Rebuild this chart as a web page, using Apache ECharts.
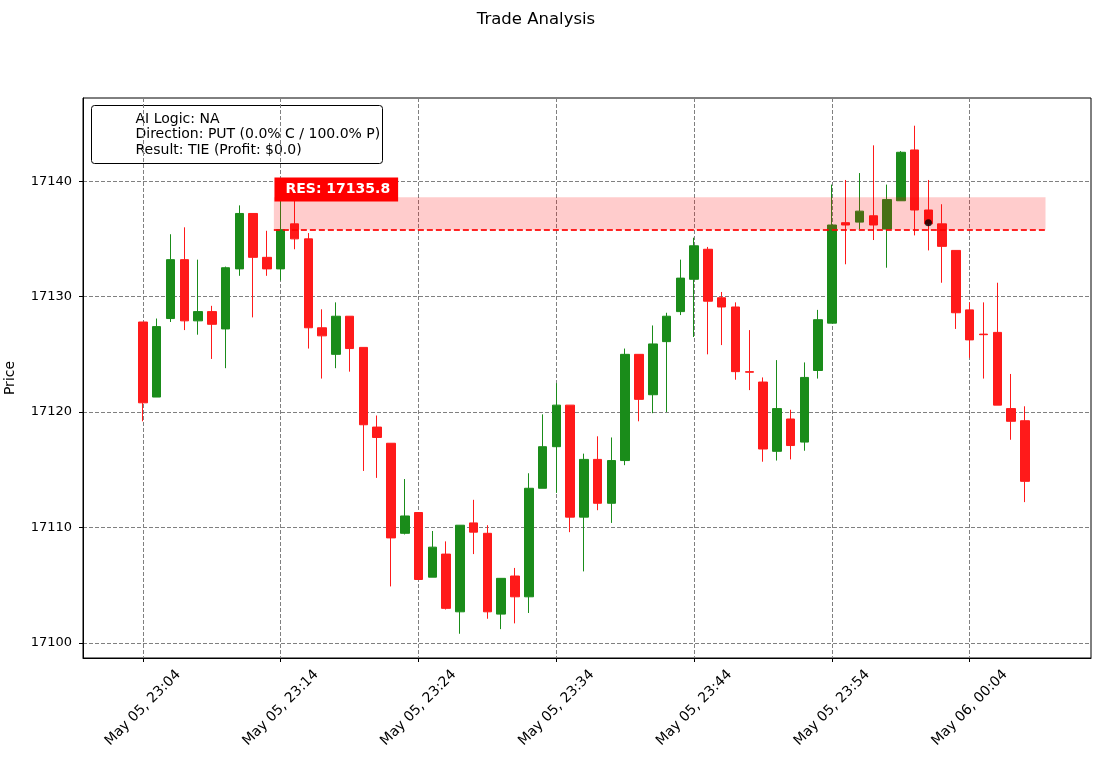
<!DOCTYPE html>
<html>
<head>
<meta charset="utf-8">
<title>Trade Analysis</title>
<script src="https://cdn.jsdelivr.net/npm/echarts@6.0.0/dist/echarts.min.js"></script>
<style>
  html, body { margin: 0; padding: 0; background: #fff; }
  #chart { width: 1101px; height: 758px; }
</style>
</head>
<body>
<div id="chart"></div>
<script>
// one candle per minute, 23:04 -> 00:08
const times = [
  "23:04","23:05","23:06","23:07","23:08","23:09","23:10","23:11","23:12","23:13",
  "23:14","23:15","23:16","23:17","23:18","23:19","23:20","23:21","23:22","23:23",
  "23:24","23:25","23:26","23:27","23:28","23:29","23:30","23:31","23:32","23:33",
  "23:34","23:35","23:36","23:37","23:38","23:39","23:40","23:41","23:42","23:43",
  "23:44","23:45","23:46","23:47","23:48","23:49","23:50","23:51","23:52","23:53",
  "23:54","23:55","23:56","23:57","23:58","23:59","00:00","00:01","00:02","00:03",
  "00:04","00:05","00:06","00:07","00:08"
];
const opens = [
  17127.8, 17121.3, 17128.1, 17133.2, 17127.9, 17128.7, 17127.2, 17132.4, 17137.2, 17133.4,
  17132.4, 17136.3, 17135.0, 17127.3, 17125.0, 17128.3, 17125.6, 17118.7, 17117.3, 17109.5,
  17111.3, 17105.7, 17107.7, 17102.7, 17110.4, 17109.5, 17102.5, 17105.8, 17104.0, 17113.4,
  17117.0, 17120.6, 17110.9, 17115.9, 17112.1, 17115.8, 17125.0, 17121.5, 17126.1, 17128.7,
  17131.5, 17134.1, 17129.9, 17129.1, 17123.5, 17122.6, 17116.6, 17119.4, 17117.4, 17123.6,
  17127.7, 17136.4, 17136.45, 17137.0, 17135.85, 17138.3, 17142.7, 17137.5, 17136.3, 17134.0,
  17128.85, 17126.75, 17126.9, 17120.3, 17119.25
];
const highs = [
  17127.8, 17128.1, 17135.4, 17136.0, 17133.2, 17129.2, 17132.6, 17137.9, 17137.2, 17135.7,
  17139.5, 17138.5, 17135.5, 17128.9, 17129.5, 17128.3, 17125.6, 17119.7, 17117.3, 17114.2,
  17111.3, 17109.7, 17108.8, 17110.2, 17112.4, 17110.2, 17105.6, 17106.5, 17114.7, 17119.8,
  17122.5, 17120.6, 17116.4, 17117.9, 17117.8, 17125.5, 17125.0, 17127.5, 17128.6, 17133.2,
  17135.1, 17134.3, 17130.4, 17129.5, 17127.1, 17123.0, 17124.5, 17120.2, 17124.3, 17128.85,
  17139.7, 17140.1, 17140.7, 17143.1, 17139.7, 17142.6, 17144.8, 17140.1, 17138.0, 17134.0,
  17129.5, 17129.5, 17131.2, 17123.3, 17120.5
];
const lows = [
  17119.2, 17121.3, 17127.8, 17127.1, 17126.7, 17124.6, 17123.8, 17131.8, 17128.2, 17131.8,
  17131.4, 17134.1, 17125.5, 17122.9, 17123.8, 17123.5, 17114.9, 17114.3, 17104.9, 17109.4,
  17105.5, 17105.7, 17102.9, 17100.8, 17107.7, 17102.1, 17101.2, 17101.7, 17102.6, 17113.4,
  17113.0, 17109.6, 17106.2, 17111.5, 17110.4, 17115.4, 17119.2, 17119.9, 17120.0, 17128.4,
  17126.5, 17125.0, 17125.8, 17122.8, 17121.9, 17115.7, 17115.8, 17115.9, 17116.65, 17122.9,
  17127.7, 17132.8, 17135.85, 17134.9, 17132.5, 17138.3, 17135.3, 17134.0, 17131.2, 17127.2,
  17124.7, 17122.9, 17120.6, 17117.6, 17112.2
];
const closes = [
  17120.8, 17127.4, 17133.2, 17127.9, 17128.7, 17127.6, 17132.5, 17137.2, 17133.4, 17132.4,
  17135.8, 17135.0, 17127.3, 17126.6, 17128.3, 17125.5, 17118.9, 17117.8, 17109.1, 17111.0,
  17105.5, 17108.3, 17103.0, 17110.2, 17109.6, 17102.7, 17105.6, 17104.0, 17113.4, 17117.0,
  17120.6, 17110.9, 17115.9, 17112.1, 17115.8, 17125.0, 17121.1, 17125.9, 17128.3, 17131.6,
  17134.4, 17129.6, 17129.1, 17123.5, 17123.45, 17116.8, 17120.3, 17117.1, 17123.0, 17128.0,
  17136.2, 17136.2, 17137.4, 17136.2, 17138.4, 17142.5, 17137.5, 17136.3, 17134.35, 17128.6,
  17126.25, 17126.7, 17120.6, 17119.2, 17114.0
];

const xTickPos = [0, 10, 20, 30, 40, 50, 60];
const xTickLabels = [
  "May 05, 23:04", "May 05, 23:14", "May 05, 23:24", "May 05, 23:34",
  "May 05, 23:44", "May 05, 23:54", "May 06, 00:04"
];
const yTicks = [17100, 17110, 17120, 17130, 17140];

// resistance zone
const resLevel = 17135.8;
const resTop = 17138.6;
const resFrom = 9.5;
const resTo = 65.5;
// entry marker
const entryPoint = [57, 17136.4];

const infoLines = [
  "AI Logic: NA",
  "Direction: PUT (0.0% C / 100.0% P)",
  "Result: TIE (Profit: $0.0)"
];

const UP = "#1a8c1a";
const DOWN = "#ff1a1a";
const FONT = "DejaVu Sans";

const candles = times.map((t, i) => [i, opens[i], closes[i], lows[i], highs[i]]);

const chart = echarts.init(document.getElementById("chart"), null, { renderer: "canvas" });

const option = {
  animation: false,
  backgroundColor: "#fff",
  textStyle: { fontFamily: FONT },
  title: {
    text: "Trade Analysis",
    left: 531,
    top: 6,
    textAlign: "center",
    textStyle: { fontFamily: FONT, fontSize: 16.5, fontWeight: "normal", color: "#000" }
  },
  grid: {
    left: 83, right: 10, top: 98, bottom: 100,
    outerBoundsMode: "none",
    containLabel: false,
    show: true, borderColor: "#000", borderWidth: 1, backgroundColor: "transparent"
  },
  xAxis: {
    type: "value",
    min: -4.35,
    max: 68.8,
    axisLine: { show: true, onZero: false, lineStyle: { color: "#000" } },
    axisTick: { show: true, length: 4, lineStyle: { color: "#000" }, customValues: xTickPos },
    axisLabel: {
      customValues: xTickPos,
      rotate: 45,
      align: "center",
      verticalAlign: "middle",
      margin: 50,
      fontFamily: FONT,
      fontSize: 14,
      color: "#000",
      formatter: (v) => xTickLabels[xTickPos.indexOf(Math.round(v))] || ""
    },
    splitLine: { show: true, lineStyle: { color: "#808080", type: [4, 2], width: 1 } }
  },
  yAxis: {
    type: "value",
    min: 17098.7,
    max: 17147.2,
    name: "Price",
    nameLocation: "middle",
    nameGap: 66,
    nameTextStyle: { fontFamily: FONT, fontSize: 14, color: "#000" },
    axisLine: { show: true, onZero: false, lineStyle: { color: "#000" } },
    axisTick: { show: true, length: 4, lineStyle: { color: "#000" }, customValues: yTicks },
    axisLabel: {
      customValues: yTicks,
      margin: 11,
      fontFamily: FONT,
      fontSize: 13,
      color: "#000",
      formatter: (v) => String(v)
    },
    splitLine: { show: true, lineStyle: { color: "#808080", type: [4, 2], width: 1 } }
  },
  series: [
    {
      type: "candlestick",
      name: "Price",
      data: candles,
      encode: { x: 0, y: [1, 2, 3, 4] },
      barWidth: 9,
      z: 2,
      itemStyle: {
        color: UP,
        color0: DOWN,
        borderColor: UP,
        borderColor0: DOWN,
        borderColorDoji: DOWN,
        borderWidth: 1
      },
      markArea: {
        silent: true,
        z: 3,
        itemStyle: { color: "rgba(255,0,0,0.2)" },
        data: [[{ coord: [resFrom, resLevel] }, { coord: [resTo, resTop] }]]
      },
      markLine: {
        silent: true,
        symbol: "none",
        z: 4,
        label: { show: false },
        lineStyle: { color: "rgba(255,0,0,0.85)", type: [6, 3], width: 2 },
        data: [[{ coord: [resFrom, resLevel] }, { coord: [resTo, resLevel] }]]
      },
      markPoint: {
        silent: true,
        z: 6,
        symbol: "rect",
        symbolSize: 1,
        itemStyle: { color: "transparent" },
        data: [{
          coord: [9.58, 17138.2],
          label: {
            show: true,
            formatter: "RES: " + resLevel.toFixed(1),
            position: [0, 0],
            align: "left",
            verticalAlign: "bottom",
            backgroundColor: "#ff0000",
            padding: [5, 8, 5, 11],
            color: "#fff",
            fontFamily: FONT,
            fontWeight: "bold",
            fontSize: 14
          }
        }]
      }
    },
    {
      type: "scatter",
      name: "Entry",
      data: [entryPoint],
      symbol: "circle",
      symbolSize: 7,
      z: 7,
      itemStyle: { color: "#000" }
    }
  ],
  graphic: [
    {
      type: "group",
      left: 91,
      top: 105,
      z: 10,
      children: [
        {
          type: "rect",
          shape: { x: 0, y: 0, width: 291, height: 58, r: 3 },
          style: { fill: "#fff", stroke: "#000", lineWidth: 1 }
        }
      ].concat(infoLines.map((s, i) => ({
        type: "text",
        x: 44,
        y: 13.5 + i * 15.5,
        style: {
          text: s,
          fontFamily: FONT,
          fontSize: 14,
          fill: "#000",
          verticalAlign: "middle",
          align: "left"
        }
      })))
    }
  ]
};

chart.setOption(option);
</script>
</body>
</html>
